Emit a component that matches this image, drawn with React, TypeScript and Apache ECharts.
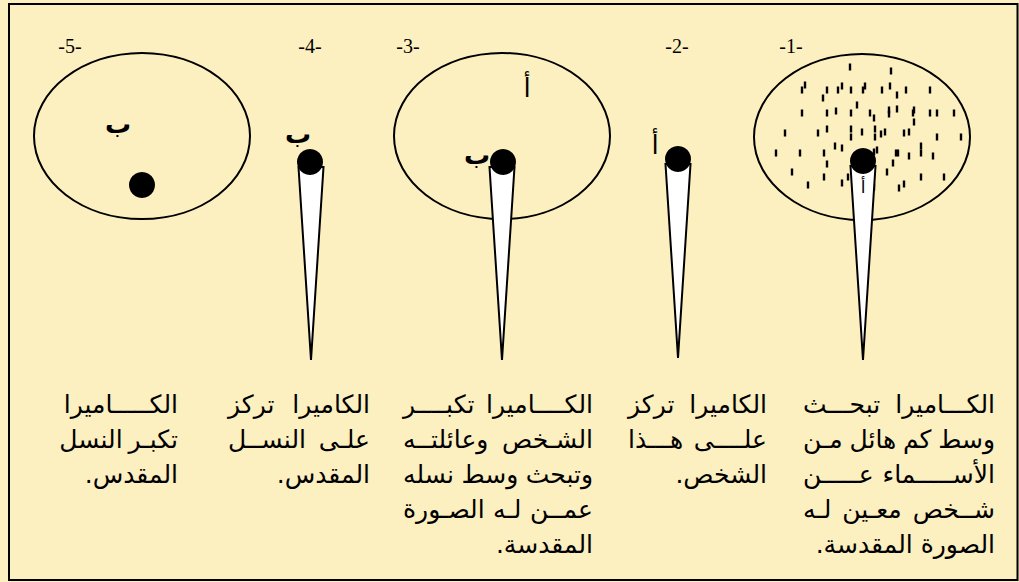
import React, { useEffect, useRef } from "react";
import * as echarts from "echarts";

// ---- content ----
const stepLabels = ["-5-", "-4-", "-3-", "-2-", "-1-"];
// ellipses: [cx, cy, rx, ry]
const ellipses = [
  [142, 136, 108, 83],
  [502, 136, 108, 83],
  [862, 137, 108, 83],
];
// camera dots: [x, y]
const dots = [
  [142, 185],
  [310, 162],
  [503, 162],
  [678, 159],
  [863, 161],
];
// beams: [x, topY, apexY]
const beams = [
  [311, 167, 360],
  [502, 167, 360],
  [678, 164, 358],
  [863, 166, 360],
];
// crowd of names in ellipse 1
const crowd = [
  [850, 67], [891, 71], [805, 85], [802, 90], [827, 90], [842, 86], [838, 90], [851, 90],
  [865, 86], [863, 90], [882, 90], [890, 86], [897, 95], [906, 90], [930, 90], [823, 98],
  [857, 105], [802, 113], [827, 113], [836, 111], [851, 113], [870, 113], [874, 118], [889, 110],
  [889, 114], [897, 109], [913, 113], [914, 110], [914, 122], [930, 113], [937, 113], [954, 113],
  [785, 133], [818, 133], [827, 129], [851, 129], [851, 137], [862, 132], [875, 129], [875, 137],
  [881, 134], [885, 132], [904, 133], [909, 132], [937, 137], [961, 137], [776, 153], [800, 153],
  [824, 153], [835, 146], [842, 148], [874, 152], [877, 150], [896, 153], [898, 153], [909, 156],
  [921, 146], [921, 153], [933, 156], [827, 164], [887, 172], [893, 163], [792, 172], [824, 177],
  [848, 177], [842, 183], [808, 185], [874, 187], [899, 188], [904, 184], [921, 177], [944, 177],
];
// letters near the dots
const letters = ["ب", "ب", "أ", "ب", "أ", "أ"];

// captions, one array per column (right to left: 1..5)
const caption1 = [
  "الكـــاميرا تبحـــث",
  "وسط كم هائل مـن",
  "الأســـماء عـــن",
  "شـخص معـين لـه",
  "الصورة المقدسة.",
];
const caption2 = ["الكاميرا تركز", "علـــى هـــذا", "الشخص."];
const caption3 = [
  "الكـــاميرا تكبـــر",
  "الشـخص وعائلتــه",
  "وتبحث وسط نسله",
  "عمـن لـه الصـورة",
  "المقدسة.",
];
const caption4 = ["الكاميرا تركز", "علـــى النســل", "المقدس."];
const caption5 = ["الكــــاميرا", "تكبـر النسل", "المقدس."];

// ---- layout ----
const W = 1019;
const H = 582;
const stepPos = [[70, 46], [310, 46], [408, 46], [677, 46], [791, 46]];
const letterPos = [
  [118, 124, 26, true],
  [298, 134, 26, true],
  [527, 88, 26, false],
  [477, 155, 26, true],
  [655, 145, 26, false],
  [863, 187, 17, false],
];
const columns = [
  { lines: caption1, left: 803, right: 995 },
  { lines: caption2, left: 628, right: 767 },
  { lines: caption3, left: 403, right: 593 },
  { lines: caption4, left: 228, right: 370 },
  { lines: caption5, left: 60, right: 178 },
];
const captionTop = 404;
const lineStep = 35;
const captionSize = 25;
const minGap = 6;
const arabicFont = "'DejaVu Sans', sans-serif";
const TATWEEL = "ـ";
const RLM = "\u200F";

function makeMeasure(font: string) {
  const ctx = document.createElement("canvas").getContext("2d")!;
  ctx.font = font;
  return (s: string) => ctx.measureText(s).width;
}

// stretch existing kashida runs of a line until it fills the target width
function kashidaFit(line: string, target: number, measure: (s: string) => number) {
  const parts = line.split(/(ـ+)/);
  const runIdx: number[] = [];
  parts.forEach((p, i) => {
    if (p.startsWith(TATWEEL)) runIdx.push(i);
  });
  if (!runIdx.length) return line;
  const build = () => parts.join("");
  let guard = 0;
  while (measure(build()) > target && guard++ < 100) {
    let best = -1;
    runIdx.forEach((i) => {
      if (parts[i].length > 1 && (best < 0 || parts[i].length > parts[best].length)) best = i;
    });
    if (best < 0) break;
    parts[best] = parts[best].slice(1);
  }
  let k = 0;
  guard = 0;
  while (guard++ < 400) {
    const i = runIdx[k];
    parts[i] += TATWEEL;
    if (measure(build()) > target) {
      parts[i] = parts[i].slice(1);
      break;
    }
    k = (k + 1) % runIdx.length;
  }
  return build();
}

export default function App() {
  const ref = useRef<HTMLDivElement>(null);
  useEffect(() => {
    if (!ref.current) return;
    const chart = echarts.init(ref.current, undefined, { renderer: "svg" });
    const measure = makeMeasure(`${captionSize}px ${arabicFont}`);

    const graphic: any[] = [
      {
        type: "rect",
        z: 1,
        shape: { x: 9, y: 4, width: 1008.5, height: 576 },
        style: { fill: "none", stroke: "#000", lineWidth: 2 },
      },
    ];
    stepLabels.forEach((t, i) => {
      graphic.push({
        type: "text",
        z: 100,
        x: stepPos[i][0],
        y: stepPos[i][1],
        style: {
          text: t,
          fontSize: 20,
          fontFamily: "'Liberation Serif', 'Times New Roman', serif",
          fill: "#000",
          align: "center",
          verticalAlign: "middle",
        },
      });
    });
    letters.forEach((t, i) => {
      const [x, y, fs, bold] = letterPos[i] as any;
      graphic.push({
        type: "text",
        z: 100,
        x,
        y,
        style: {
          text: t,
          fontSize: fs,
          fontWeight: bold ? "bold" : "normal",
          fontFamily: "'DejaVu Sans', serif",
          fill: "#000",
          align: "center",
          verticalAlign: "middle",
        },
      });
    });
    const base = {
      fontSize: captionSize,
      fontFamily: arabicFont,
      fill: "#000",
      verticalAlign: "middle",
    };
    columns.forEach((col) => {
      const target = col.right - col.left;
      col.lines.forEach((line, i) => {
        const y = captionTop + i * lineStep;
        const last = i === col.lines.length - 1;
        if (last) {
          const txt = line.endsWith(".") ? line + RLM : line;
          graphic.push({
            type: "text",
            z: 100,
            x: col.right,
            y,
            style: { ...base, text: txt, align: "right" },
          });
          return;
        }
        const fitted = kashidaFit(line, target, measure);
        const words = fitted.split(" ");
        if (words.length === 1) {
          graphic.push({
            type: "text",
            z: 100,
            x: col.right,
            y,
            style: { ...base, text: fitted, align: "right" },
          });
          return;
        }
        const widths = words.map((w) => measure(w));
        const sum = widths.reduce((a, b) => a + b, 0);
        const gap = Math.max(minGap, (target - sum) / (words.length - 1));
        let x = col.right;
        words.forEach((w, j) => {
          graphic.push({
            type: "text",
            z: 100,
            x,
            y,
            style: { ...base, text: w, align: "right" },
          });
          x -= widths[j] + gap;
        });
      });
    });

    chart.setOption({
      animation: false,
      backgroundColor: "#FCEFC0",
      grid: { left: 0, right: 0, top: 0, bottom: 0 },
      xAxis: { type: "value", min: 0, max: W, show: false },
      yAxis: { type: "value", min: 0, max: H, inverse: true, show: false },
      series: [
        {
          type: "custom",
          z: 2,
          data: ellipses,
          renderItem: (params: any, api: any) => {
            const c = api.coord([api.value(0), api.value(1)]);
            const s = api.size([api.value(2), api.value(3)]);
            return {
              type: "ellipse",
              shape: { cx: c[0], cy: c[1], rx: s[0], ry: s[1] },
              style: { fill: "none", stroke: "#000", lineWidth: 2 },
            };
          },
        },
        {
          type: "scatter",
          z: 3,
          symbol: "rect",
          symbolSize: [2.4, 7],
          itemStyle: { color: "#000", opacity: 1 },
          data: crowd,
        },
        {
          type: "custom",
          z: 4,
          data: beams,
          renderItem: (params: any, api: any) => {
            const x = api.value(0);
            const top = api.value(1);
            const apex = api.value(2);
            const p1 = api.coord([x - 12.5, top]);
            const p2 = api.coord([x + 12.5, top]);
            const p3 = api.coord([x, apex]);
            return {
              type: "polygon",
              shape: { points: [p1, p2, p3] },
              style: { fill: "#fff", stroke: "#000", lineWidth: 2, lineJoin: "miter" },
            };
          },
        },
        {
          type: "scatter",
          z: 5,
          symbolSize: 26,
          itemStyle: { color: "#000", opacity: 1 },
          data: dots,
        },
      ],
      graphic,
    });
    return () => chart.dispose();
  }, []);
  return (
    <div
      ref={ref}
      style={{ position: "fixed", left: 0, top: 0, width: W, height: H }}
    />
  );
}
